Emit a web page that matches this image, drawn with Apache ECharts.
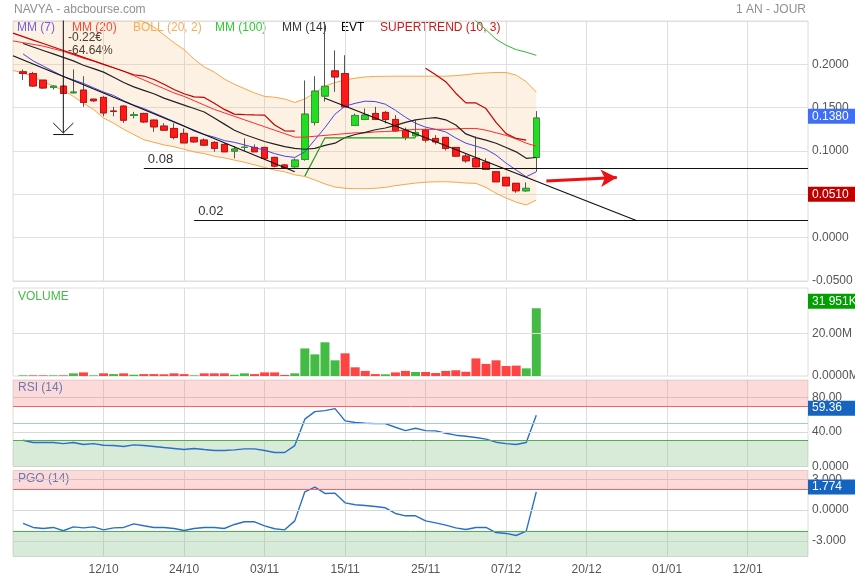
<!DOCTYPE html>
<html><head><meta charset="utf-8">
<script src="https://cdn.jsdelivr.net/npm/echarts@6/dist/echarts.min.js"></script>
<style>html,body{margin:0;padding:0;background:#fff}#c{width:855px;height:580px}</style>
</head><body><div id="c"></div><script>
const categories = ['29/09','30/09','03/10','04/10','05/10','06/10','07/10','10/10','11/10','12/10','13/10','14/10','17/10','18/10','19/10','20/10','21/10','24/10','25/10','26/10','27/10','28/10','31/10','01/11','02/11','03/11','04/11','07/11','08/11','09/11','10/11','11/11','14/11','15/11','16/11','17/11','18/11','21/11','22/11','23/11','24/11','25/11','28/11','29/11','30/11','01/12','02/12','05/12','06/12','07/12','08/12','09/12','12/12','13/12','14/12','15/12','16/12','20/12','21/12','22/12','23/12','26/12','27/12','28/12','29/12','01/01','02/01','03/01','04/01','05/01','06/01','09/01','10/01','12/01','13/01','16/01','17/01','18/01','19/01','20/01'];
const labelDays = ['12/10','24/10','03/11','15/11','25/11','07/12','20/12','01/01','12/01'];

// candles (category index 1..52)
const open  = [0.1913,0.1894,0.1817,0.1733,0.1748,0.1672,0.1702,0.1598,0.1618,0.1460,0.1517,0.1410,0.1433,0.1356,0.1287,0.1260,0.1203,0.1157,0.1126,0.1099,0.1076,0.0999,0.1041,0.1041,0.1041,0.0926,0.0838,0.0818,0.0903,0.1329,0.1634,0.1924,0.1894,0.1295,0.1364,0.1433,0.1445,0.1364,0.1241,0.1176,0.1241,0.1145,0.1157,0.1041,0.0941,0.0915,0.0869,0.0760,0.0696,0.0627,0.0541,0.0926];
const close = [0.1894,0.1751,0.1728,0.1748,0.1664,0.1680,0.1560,0.1580,0.1440,0.1457,0.1356,0.1418,0.1336,0.1279,0.1241,0.1157,0.1094,0.1106,0.1068,0.1030,0.0991,0.1022,0.1043,0.0991,0.0915,0.0826,0.0806,0.0895,0.1425,0.1690,0.1746,0.1855,0.1509,0.1410,0.1414,0.1364,0.1364,0.1233,0.1157,0.1214,0.1126,0.1106,0.1030,0.0941,0.0887,0.0818,0.0788,0.0645,0.0599,0.0541,0.0569,0.1380];
const low   = [0.1820,0.1740,0.1717,0.1710,0.1664,0.1664,0.1510,0.1567,0.1402,0.1400,0.1325,0.1376,0.1322,0.1221,0.1233,0.1134,0.1094,0.1094,0.1056,0.0991,0.0991,0.0915,0.0999,0.0990,0.0904,0.0811,0.0799,0.0806,0.0887,0.1295,0.1570,0.1682,0.1509,0.1287,0.1356,0.1356,0.1318,0.1222,0.1126,0.1157,0.1099,0.1076,0.1006,0.0934,0.0864,0.0810,0.0780,0.0645,0.0599,0.0518,0.0530,0.0760];
const high  = [0.1940,0.1913,0.1820,0.1760,0.1755,0.1940,0.1863,0.1600,0.1633,0.1510,0.1530,0.1452,0.1441,0.1363,0.1320,0.1320,0.1260,0.1164,0.1145,0.1114,0.1090,0.1056,0.1145,0.1076,0.1049,0.0934,0.0849,0.0915,0.1814,0.1863,0.2490,0.2162,0.2105,0.1433,0.1491,0.1510,0.1464,0.1414,0.1270,0.1356,0.1260,0.1183,0.1157,0.1041,0.0968,0.1168,0.0915,0.0765,0.0700,0.0627,0.0637,0.1460];

// volume in millions, up = 1 green / 0 red
const volume = [0.3,0.3,0.3,0.3,0.3,1.26,1.7,0.3,1.26,0.9,1.26,0.6,0.9,0.9,0.8,1.26,0.9,0.3,1.26,1.26,1.26,0.6,1.26,0.9,1.7,1.7,0.5,1.26,13.0,10.2,15.9,7.4,10.7,4.1,2.4,0.9,0.8,1.7,2.4,1.9,1.9,1.4,2.4,2.7,2.0,8.3,5.7,7.4,4.7,4.9,3.6,31.951];
const volumeUp = [1,0,0,1,0,1,0,1,0,1,0,1,0,0,0,0,0,1,0,0,0,1,1,0,0,0,0,1,1,1,1,1,0,0,0,0,1,0,0,1,0,0,0,0,0,0,0,0,0,0,1,1];

const rsi = [30.4,27.7,27.7,27.7,26.5,27.7,25.4,26.5,24.6,24.2,23.1,25.0,24.2,23.1,21.9,20.8,19.6,20.8,19.6,18.5,18.5,19.2,20.4,20.4,18.5,16.2,16.2,24.2,54.7,63.4,64.6,66.9,52.7,50.8,50.0,49.6,49.6,45.4,41.5,44.2,41.5,41.2,38.5,36.2,35.0,33.5,31.6,28.1,26.5,25.4,27.7,59.36];
const pgo = [-1.29,-1.68,-1.78,-1.68,-2.0,-1.62,-1.72,-1.62,-1.91,-1.72,-1.68,-1.33,-1.52,-1.68,-1.68,-1.78,-1.97,-1.78,-1.68,-1.68,-1.78,-1.39,-1.13,-1.13,-1.52,-1.81,-1.91,-1.04,1.78,2.23,1.62,1.65,0.71,0.52,0.45,0.36,0.23,-0.32,-0.55,-0.55,-1.04,-1.23,-1.46,-1.72,-1.88,-1.68,-1.68,-2.17,-2.26,-2.46,-2.04,1.774];

// indicators (category index 0..52)
const mm7 = ['-',0.212,0.204,0.198,0.192,0.186,0.182,0.178,0.173,0.168,0.164,0.158,0.153,0.149,0.144,0.139,0.134,0.129,0.123,0.119,0.116,0.112,0.110,0.107,0.104,0.101,0.097,0.094,0.0926,0.099,0.113,0.127,0.1425,0.1517,0.155,0.1575,0.157,0.154,0.147,0.139,0.132,0.1275,0.125,0.122,0.115,0.109,0.1056,0.102,0.0953,0.086,0.078,0.0703,0.076];
const mm14 = ['-',0.224,0.220,0.216,0.212,0.208,0.204,0.199,0.195,0.191,0.185,0.179,0.174,0.170,0.166,0.161,0.157,0.153,0.149,0.145,0.138,0.131,0.124,0.119,0.115,0.111,0.108,0.105,0.103,0.102,0.103,0.1065,0.109,0.1155,0.119,0.1215,0.1245,0.1265,0.1295,0.133,0.136,0.1375,0.1385,0.136,0.130,0.1197,0.1155,0.1125,0.109,0.104,0.099,0.0915,0.0925];
const mm20 = [0.227,0.225,0.223,0.221,0.218,0.215,0.211,0.207,0.204,0.200,0.196,0.192,0.187,0.182,0.177,0.172,0.167,0.163,0.158,0.153,0.148,0.144,0.140,0.136,0.132,0.128,0.124,0.120,0.116,0.116,0.117,0.118,0.119,0.120,0.121,0.121,0.122,0.1225,0.123,0.124,0.125,0.125,0.125,0.125,0.1255,0.126,0.126,0.124,0.121,0.118,0.114,0.109,0.1055];
const mm100 = ['-','-','-','-','-','-','-','-','-','-','-','-','-','-','-','-','-','-','-','-','-','-','-','-','-','-','-','-','-','-','-','-','-','-','-','-','-','-','-','-','-','-','-','-','-',0.262,0.250,0.240,0.229,0.222,0.217,0.214,0.2104];
const bollUp = [0.262,0.262,0.262,0.263,0.263,0.263,0.263,0.263,0.263,0.262,0.260,0.257,0.253,0.249,0.243,0.234,0.225,0.217,0.206,0.197,0.191,0.183,0.177,0.172,0.167,0.163,0.162,0.160,0.156,0.160,0.167,0.175,0.179,0.182,0.184,0.1855,0.186,0.1862,0.1863,0.1863,0.1863,0.1863,0.1863,0.1863,0.187,0.188,0.1894,0.190,0.1906,0.1906,0.1875,0.180,0.168];
const bollLow = [0.193,0.190,0.186,0.180,0.175,0.170,0.163,0.155,0.148,0.138,0.132,0.125,0.119,0.113,0.110,0.107,0.105,0.102,0.099,0.097,0.094,0.092,0.0895,0.087,0.084,0.081,0.078,0.076,0.0725,0.0706,0.0665,0.062,0.0584,0.057,0.0565,0.0565,0.057,0.058,0.060,0.0615,0.063,0.064,0.0645,0.0645,0.064,0.063,0.0627,0.058,0.0512,0.0457,0.041,0.0377,0.0434];
const stDown = [0.236,0.232,0.228,0.224,0.220,0.216,0.212,0.208,0.204,0.200,0.196,0.192,0.188,0.1865,0.1825,0.177,0.171,0.166,0.1625,0.1618,0.155,0.148,0.1425,0.1420,0.1416,0.1414,0.130,0.1233,0.1229,'-','-','-','-','-','-','-','-','-','-','-','-',0.1955,0.188,0.180,0.1667,0.1555,0.1555,0.149,0.133,0.120,0.1145,0.1126,'-'];
const stUp = ['-','-','-','-','-','-','-','-','-','-','-','-','-','-','-','-','-','-','-','-','-','-','-','-','-','-','-','-','-',0.071,0.093,0.1152,0.1152,0.1152,0.1152,0.1152,0.1152,0.1152,0.1152,0.1152,0.1152];

// drawn annotations
const trend1 = [[0,0.2099],[28,0.0761]];
const trend2 = [[31,0.1608],[62,0.0195]];
const levels = [{v:0.08, from:13, text:'0.08'},{v:0.02, from:18, text:'0.02'}];
const measureLine = [[5,0.34],[5,0.1208]];
const measureHead = [[4,0.1323],[5,0.1208],[6,0.1323]];
const measureBar = [[4,0.119],[6,0.119]];
const redArrow = [[53,0.0654],[60,0.0695]];
const lastPrice = 0.138, redTag = 0.051, lastVol = 31.951, lastRsi = 59.36, lastPgo = 1.774;

const FONT = 'Liberation Sans, Arial, sans-serif';
const UP = '#22dd22', DOWN = '#ff1a1a';
const isLabelIdx = (i) => labelDays.indexOf(categories[i]) >= 0;

const candleData = open.map((o, i) => [i + 1, o, close[i], low[i], high[i]]);
const bodyData = open.map((o, i) => [i + 1, o, close[i], Math.min(o, close[i]), Math.max(o, close[i])]);
const bandData = bollUp.map((u, i) => u - bollLow[i]);
const volData = volume.map((v, i) => ({value: [i + 1, v * 1e6], itemStyle: {color: volumeUp[i] ? '#44bb44' : '#ff4444'}}));
const rsiData = rsi.map((v, i) => [i + 1, v]);
const pgoData = pgo.map((v, i) => [i + 1, v]);

const gridCommon = {left: 13, right: 47, show: true, borderColor: '#dcdcdc', borderWidth: 1, backgroundColor: '#fff', containLabel: false, outerBoundsMode: 'none'};
const grids = [
  Object.assign({top: 21, height: 260}, gridCommon),
  Object.assign({top: 288, height: 88}, gridCommon),
  Object.assign({top: 380, height: 86.5}, gridCommon),
  Object.assign({top: 470.5, height: 86}, gridCommon)
];
const xAxes = grids.map((g, gi) => ({
  type: 'category', gridIndex: gi, data: categories, boundaryGap: false,
  axisLine: {show: false}, axisTick: {show: false},
  axisLabel: {show: gi === 3, interval: (i) => isLabelIdx(i), color: '#555', fontSize: 12, fontFamily: FONT, margin: 7},
  splitLine: {show: true, interval: (i) => isLabelIdx(i), lineStyle: {color: '#dedede'}}
}));
const yCommon = {type: 'value', position: 'right', axisLine: {show: false}, axisTick: {show: false}, scale: false};
const lbl = {color: '#555', fontSize: 12, fontFamily: FONT, margin: 4, padding: [0, 0, 5, 0]};
const yAxes = [
  Object.assign({}, yCommon, {gridIndex: 0, min: -0.05, max: 0.25, interval: 0.05,
    axisLabel: Object.assign({}, lbl, {showMaxLabel: false, formatter: (v) => v.toFixed(4)}),
    splitLine: {lineStyle: {color: '#e0e0e0'}}}),
  Object.assign({}, yCommon, {gridIndex: 1, min: 0, max: 41.5e6, interval: 20e6,
    axisLabel: Object.assign({}, lbl, {formatter: (v) => v === 0 ? '0.0000M' : (v > 30e6 ? '' : (v / 1e6).toFixed(2) + 'M')}),
    splitLine: {show: false}}),
  Object.assign({}, yCommon, {gridIndex: 2, min: 0, max: 100, interval: 40,
    axisLabel: Object.assign({}, lbl, {formatter: (v) => v === 0 ? '0.0000' : (v > 90 ? '' : v.toFixed(2))}),
    splitLine: {show: false}}),
  Object.assign({}, yCommon, {gridIndex: 3, min: -4.5, max: 3.85,
    axisLabel: Object.assign({}, lbl, {customValues: [-3, 0, 3], formatter: (v) => v === 0 ? '0.0000' : v.toFixed(3)}),
    axisTick: {show: false, customValues: [-3, 0, 3]},
    splitLine: {show: false}})
];

function tag(v, text, bg, off) {
  return {yAxis: v, lineStyle: {color: 'rgba(0,0,0,0)', width: 1}, label: {show: true, position: 'end', distance: 0, formatter: text,
    color: '#fff', backgroundColor: bg, padding: [2, 4, 1, 4], width: 42, fontSize: 12, fontFamily: FONT, offset: off || [0, 0]}};
}
function gline(v, color) {
  return {yAxis: v, lineStyle: {color: color, width: 1, type: 'solid'}, label: {show: false}};
}
const line = (name, data, color, w, extra) => Object.assign({
  type: 'line', name: name, data: data, xAxisIndex: 0, yAxisIndex: 0, symbol: 'none', silent: true,
  lineStyle: {color: color, width: w || 1}, z: 4
}, extra || {});

const series = [
  // Bollinger band
  {type: 'line', data: bollLow, stack: 'boll', symbol: 'none', lineStyle: {color: '#f7a54a', width: 1}, z: 1, silent: true},
  {type: 'line', data: bandData, stack: 'boll', symbol: 'none', lineStyle: {color: '#f7a54a', width: 1},
    areaStyle: {color: 'rgba(247,185,110,0.28)', origin: 'start'}, z: 1, silent: true},
  // candles: wicks then bodies
  {type: 'candlestick', data: candleData, encode: {x: 0, y: [1, 2, 3, 4]}, barWidth: 7, z: 3, silent: true, clip: true,
    itemStyle: {color: UP, color0: DOWN, borderColor: '#555', borderColor0: '#555', borderWidth: 1}},
  {type: 'candlestick', data: bodyData, encode: {x: 0, y: [1, 2, 3, 4]}, barWidth: 7, z: 3, silent: true, clip: true,
    itemStyle: {color: UP, color0: DOWN, borderColor: '#2f9a2f', borderColor0: '#c81010', borderWidth: 1}},
  line('MM7', mm7, '#4444ee', 1),
  line('MM20', mm20, '#ff2a2a', 1),
  line('MM14', mm14, '#222', 1.2),
  line('MM100', mm100, '#2eb82e', 1),
  line('ST down', stDown, '#c40000', 1.2),
  line('ST up', stUp, '#1f9a1f', 1.2),
  line('trend1', trend1, '#111', 1.2),
  line('trend2', trend2, '#111', 1.2, {
    markLine: {silent: true, symbol: ['none', 'none'], animation: false, data: [
      [{coord: [levels[0].from, levels[0].v], lineStyle: {color: '#111', width: 1.2, type: 'solid'},
        label: {show: true, position: 'insideStartTop', formatter: levels[0].text, color: '#333', fontSize: 13, fontFamily: FONT, distance: [4, 2]}},
       {coord: [79, levels[0].v]}],
      [{coord: [levels[1].from, levels[1].v], lineStyle: {color: '#111', width: 1.2, type: 'solid'},
        label: {show: true, position: 'insideStartTop', formatter: levels[1].text, color: '#333', fontSize: 13, fontFamily: FONT, distance: [4, 2]}},
       {coord: [79, levels[1].v]}],
      tag(lastPrice, lastPrice.toFixed(4), '#3f6ff5'),
      tag(redTag, redTag.toFixed(4), '#c00000')
    ]}
  }),
  line('arrowRed', redArrow, 'rgba(0,0,0,0)', 0, {
    markLine: {silent: true, symbol: ['none', 'arrow'], symbolSize: [13, 16], animation: false, data: [
      [{coord: redArrow[0], lineStyle: {color: '#ee1111', width: 3, type: 'solid'}, label: {show: false}}, {coord: redArrow[1]}]
    ]}
  }),
  line('measure', measureLine, '#111', 1),
  line('measureHead', measureHead, '#111', 1),
  line('measureBar', measureBar, '#111', 1),
  // volume
  {type: 'bar', data: volData, xAxisIndex: 1, yAxisIndex: 1, barWidth: 9, silent: true,
    markLine: {silent: true, symbol: ['none', 'none'], animation: false, data: [
      gline(20e6, '#dedede'),
      tag(lastVol * 1e6, '31 951K', '#00a000', [0, -7])
    ]}},
  // RSI
  {type: 'line', data: rsiData, xAxisIndex: 2, yAxisIndex: 2, symbol: 'none', silent: true,
    lineStyle: {color: '#2a6fc7', width: 1.4}, z: 4,
    markArea: {silent: true, data: [
      [{yAxis: 70, itemStyle: {color: 'rgba(245,120,120,0.27)'}}, {yAxis: 100}],
      [{yAxis: 0, itemStyle: {color: 'rgba(110,180,110,0.27)'}}, {yAxis: 30}]
    ]},
    markLine: {silent: true, symbol: ['none', 'none'], animation: false, data: [
      gline(40, '#d8d8d8'), gline(80, '#d8c0c0'),
      gline(70, '#ff6060'), gline(50, '#9cc8f2'), gline(30, '#55aa55'),
      tag(lastRsi, lastRsi.toFixed(2), '#1565c0', [0, -7])
    ]}},
  // PGO
  {type: 'line', data: pgoData, xAxisIndex: 3, yAxisIndex: 3, symbol: 'none', silent: true,
    lineStyle: {color: '#2a6fc7', width: 1.4}, z: 4,
    markArea: {silent: true, data: [
      [{yAxis: 2, itemStyle: {color: 'rgba(245,120,120,0.27)'}}, {yAxis: 3.85}],
      [{yAxis: -4.5, itemStyle: {color: 'rgba(110,180,110,0.27)'}}, {yAxis: -2}]
    ]},
    markLine: {silent: true, symbol: ['none', 'none'], animation: false, data: [
      gline(3, '#d8c0c0'), gline(0, '#d8d8d8'), gline(-3, '#c6d6c6'),
      gline(2, '#ff6060'), gline(-2, '#55aa55'),
      tag(lastPgo, lastPgo.toFixed(3), '#1565c0', [0, -5])
    ]}}
];

const legend = [
  ['MM (7)', '#4f4fff', 17], ['MM (20)', '#ff2a2a', 72], ['BOLL (20, 2)', '#f7ad55', 133], ['MM (100)', '#2ecc2e', 215],
  ['MM (14)', '#333333', 282], ['EVT', '#000000', 341], ['SUPERTREND (10, 3)', '#cc1a1a', 380]
];
const graphics = [
  {type: 'text', left: 14, top: 4, silent: true, style: {text: 'NAVYA - abcbourse.com', fill: '#909090', font: '12px ' + FONT}},
  {type: 'text', right: 49, top: 4, silent: true, style: {text: '1 AN - JOUR', fill: '#909090', font: '12px ' + FONT}},
  {type: 'text', left: 18, top: 291, silent: true, style: {text: 'VOLUME', fill: '#44bb44', font: '12px ' + FONT}},
  {type: 'text', left: 18, top: 382, silent: true, style: {text: 'RSI (14)', fill: '#3a78c8', font: '12px ' + FONT}},
  {type: 'text', left: 18, top: 473, silent: true, style: {text: 'PGO (14)', fill: '#3a78c8', font: '12px ' + FONT}},
  {type: 'text', left: 68, top: 32, silent: true, style: {text: '-0.22€', fill: '#222', font: '12px ' + FONT}},
  {type: 'text', left: 68, top: 45, silent: true, style: {text: '-64.64%', fill: '#222', font: '12px ' + FONT}}
].concat(legend.map(l => ({type: 'text', left: l[2], top: 22, silent: true, style: {text: l[0], fill: l[1], font: '12px ' + FONT}})));

const chart = echarts.init(document.getElementById('c'), null, {renderer: 'canvas'});
chart.setOption({
  animation: false, backgroundColor: '#fff',
  textStyle: {fontFamily: FONT},
  grid: grids, xAxis: xAxes, yAxis: yAxes, series: series, graphic: graphics
});
</script></body></html>
